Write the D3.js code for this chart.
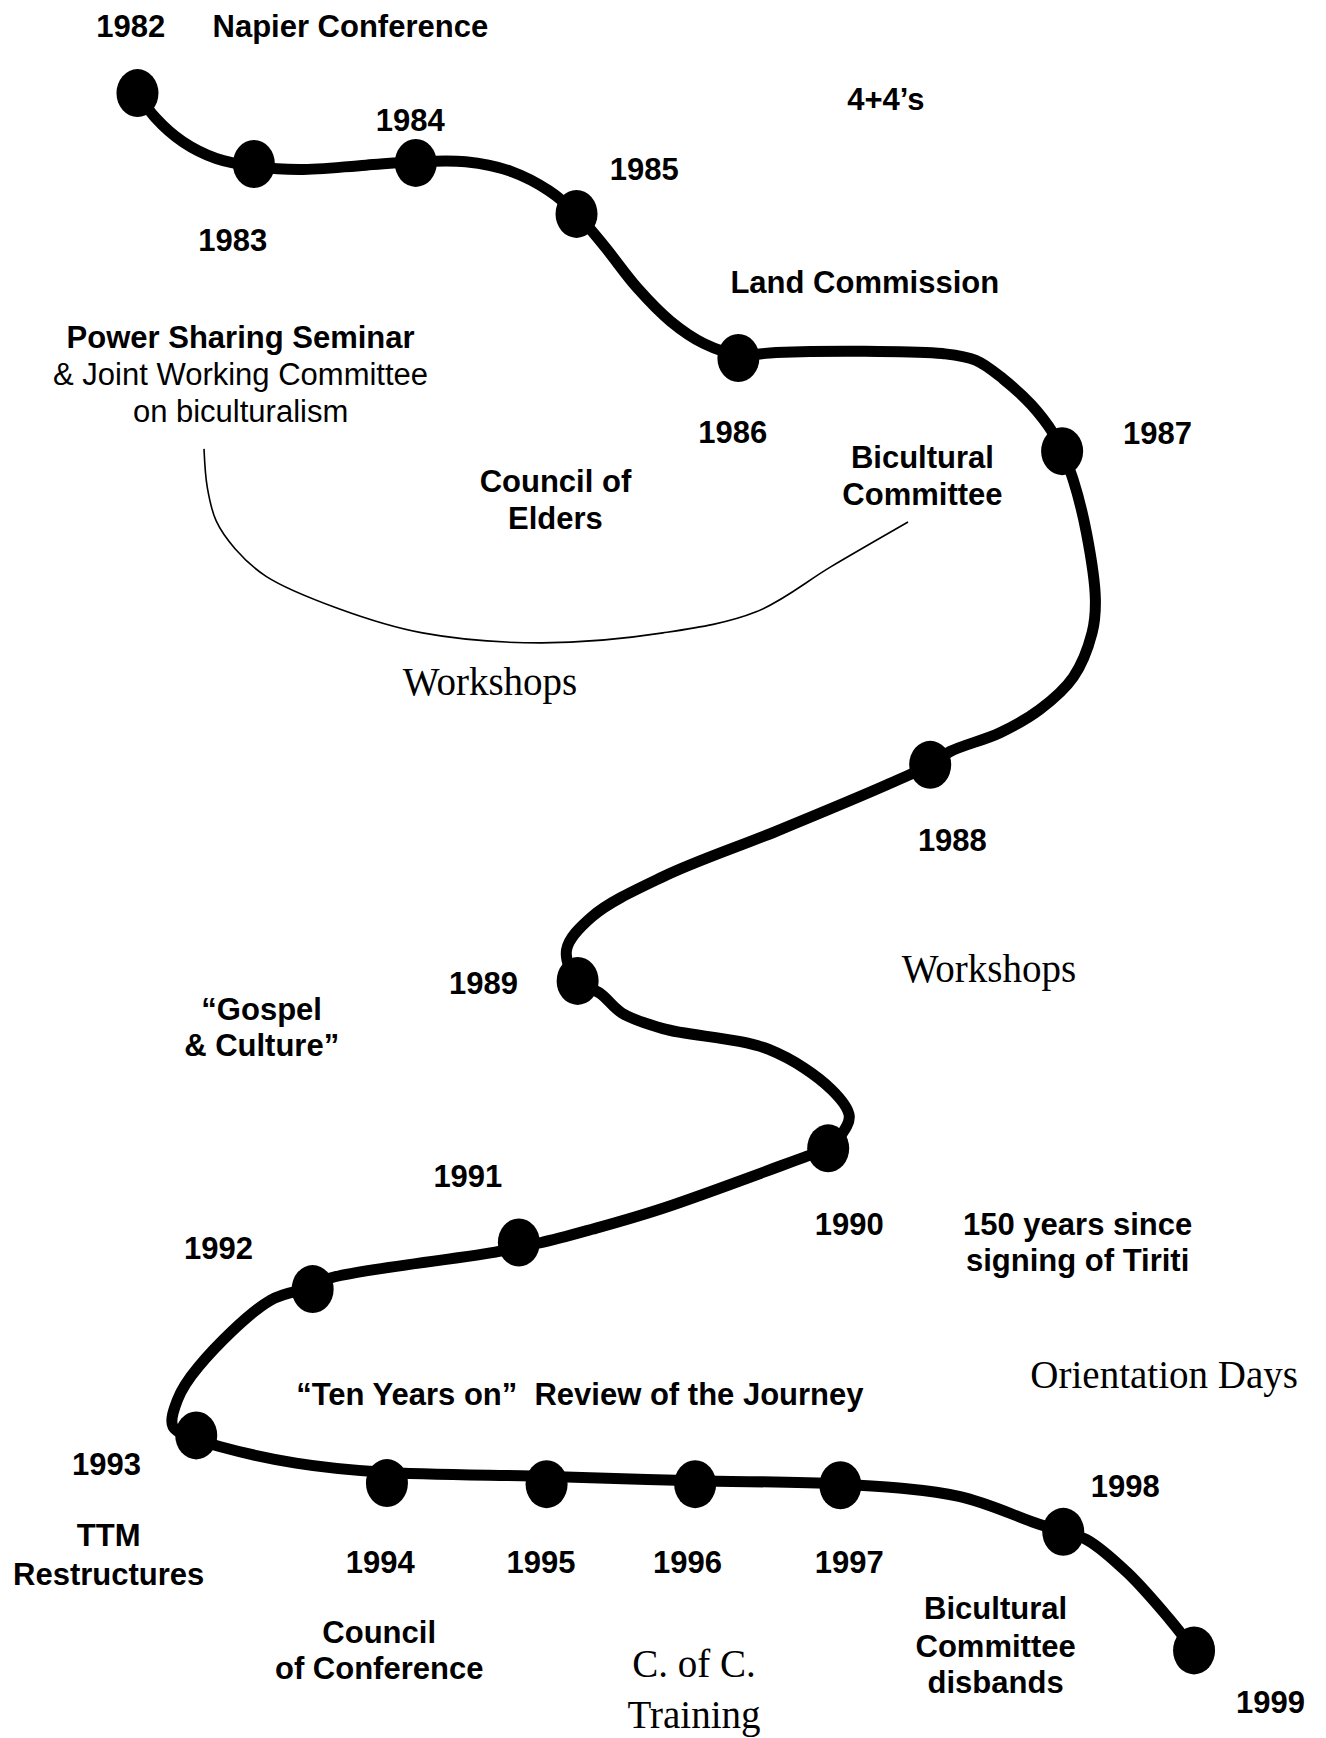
<!DOCTYPE html>
<html>
<head>
<meta charset="utf-8">
<script src="https://cdn.jsdelivr.net/npm/d3@7"></script>
<style>
  body { margin: 0; background: #fff; }
  svg text { white-space: pre; }
</style>
</head>
<body>
<svg id="chart"></svg>
<script>
// timeline journey 1982 - 1999, coordinates read in reference units (1196 x 1568 sheet)
const years = [1982, 1983, 1984, 1985, 1986, 1987, 1988, 1989, 1990,
               1991, 1992, 1993, 1994, 1995, 1996, 1997, 1998, 1999];
const dotX = [124, 229, 375, 520, 666, 958, 839, 521, 747, 468, 282, 177, 349, 493, 627, 758, 959, 1077];
const dotY = [84, 148, 147, 193, 323, 407, 690, 885, 1036, 1121, 1163, 1295, 1338, 1339, 1339, 1340, 1382, 1489];

// year label positions
const yearLabelX = [118, 210, 370, 581, 661, 1044, 859, 436, 766, 422, 197, 96, 343, 488, 620, 766, 1015, 1146];
const yearLabelY = [33, 226, 118, 162, 400, 401, 768, 897, 1114, 1071, 1136, 1331, 1419, 1419, 1419, 1419, 1351, 1545];

// the thick winding road
const trackX = [124, 140, 165, 195, 229, 270, 330, 375, 420, 462, 495, 520, 545, 575, 605, 635, 666,
                700, 780, 850, 880, 905, 930, 950, 958, 968, 980, 988, 985, 968, 938, 902, 857, 839,
                800, 700, 598, 534, 511, 521, 541, 561, 598, 694, 750, 766, 758, 747, 728, 598, 534, 488,
                468, 450, 298, 282, 244, 179, 160, 156, 177, 198, 267, 343, 496, 627, 758, 865, 934, 959,
                980, 1017, 1055, 1077];
const trackY = [84, 106, 128, 143, 150, 153, 149, 146, 146, 155, 172, 193, 222, 260, 290, 310, 320,
                318, 317, 319, 325, 342, 365, 391, 407, 433, 481, 541, 571, 611, 640, 661, 678, 690,
                708, 750, 791, 827, 857, 886, 896, 914, 928, 947, 983, 1007, 1025, 1036, 1043, 1090, 1109, 1121,
                1124, 1129, 1153, 1161, 1173, 1233, 1263, 1287, 1298, 1305, 1320, 1328, 1332, 1336, 1339, 1350, 1374, 1382,
                1389, 1419, 1461, 1489];

// the thin "Workshops" bracket
const bracketX = [184, 187, 195, 212, 240, 305, 381, 488, 598, 682, 750, 819];
const bracketY = [405, 440, 470, 495, 520, 549, 571, 580, 571, 552, 511, 471];

// event notes: b = bold sans, r = regular sans, s = serif
const noteText = ["Napier Conference", "4+4\u2019s", "Land Commission",
  "Power Sharing Seminar", "& Joint Working Committee", "on biculturalism",
  "Bicultural", "Committee", "Council of", "Elders", "Workshops", "Workshops",
  "\u201cGospel", "& Culture\u201d", "150 years since", "signing of Tiriti",
  "Orientation Days", "\u201cTen Years on\u201d  Review of the Journey",
  "TTM", "Restructures", "Council", "of Conference", "C. of C.", "Training",
  "Bicultural", "Committee", "disbands"];
const noteX = [316, 799, 780, 217, 217, 217, 832, 832, 501, 501, 442, 892,
  236, 236, 972, 972, 1050, 523, 98, 98, 342, 342, 626, 626, 898, 898, 898];
const noteY = [33, 99, 264, 314, 347, 381, 422, 456, 444, 477, 627, 886,
  920, 953, 1114, 1147, 1252, 1268, 1395, 1430, 1482, 1515, 1513, 1559, 1461, 1495, 1527];
const noteKind = ["b", "b", "b", "b", "r", "r", "b", "b", "b", "b", "s", "s",
  "b", "b", "b", "b", "s", "b", "b", "b", "b", "b", "s", "s", "b", "b", "b"];

const W = 1326, H = 1738;
const x = d3.scaleLinear().domain([0, 1196]).range([0, W]);
const y = d3.scaleLinear().domain([0, 1568]).range([0, H]);

const svg = d3.select("#chart")
    .attr("width", W)
    .attr("height", H)
    .style("background", "#fff");

const fonts = {
  b: {family: "'Liberation Sans', Arial, sans-serif", weight: "bold", size: 31},
  r: {family: "'Liberation Sans', Arial, sans-serif", weight: "normal", size: 31},
  s: {family: "'Liberation Serif', 'Times New Roman', serif", weight: "normal", size: 39}
};

// thin bracket line
const bracket = d3.line()
    .x(i => x(bracketX[i]))
    .y(i => y(bracketY[i]))
    .curve(d3.curveCatmullRom.alpha(0.5));
svg.append("path")
    .attr("d", bracket(d3.range(bracketX.length)))
    .attr("fill", "none")
    .attr("stroke", "#000")
    .attr("stroke-width", 1.6);

// thick road
const road = d3.line()
    .x(i => x(trackX[i]))
    .y(i => y(trackY[i]))
    .curve(d3.curveCatmullRom.alpha(0.5));
svg.append("path")
    .attr("class", "road")
    .attr("d", road(d3.range(trackX.length)))
    .attr("fill", "none")
    .attr("stroke", "#000")
    .attr("stroke-width", 11)
    .attr("stroke-linecap", "round")
    .attr("stroke-linejoin", "round");

// year dots
svg.selectAll(".dot")
  .data(years)
  .enter().append("ellipse")
    .attr("class", "dot")
    .attr("cx", (d, i) => x(dotX[i]))
    .attr("cy", (d, i) => y(dotY[i]))
    .attr("rx", 21)
    .attr("ry", 24)
    .attr("fill", "#000");

// year labels
svg.selectAll(".year")
  .data(years)
  .enter().append("text")
    .attr("class", "year")
    .attr("x", (d, i) => x(yearLabelX[i]))
    .attr("y", (d, i) => y(yearLabelY[i]))
    .attr("text-anchor", "middle")
    .style("font-family", fonts.b.family)
    .style("font-weight", fonts.b.weight)
    .style("font-size", fonts.b.size + "px")
    .text(d => d);

// event notes
svg.selectAll(".note")
  .data(noteText)
  .enter().append("text")
    .attr("class", "note")
    .attr("x", (d, i) => x(noteX[i]))
    .attr("y", (d, i) => y(noteY[i]))
    .attr("text-anchor", "middle")
    .style("font-family", (d, i) => fonts[noteKind[i]].family)
    .style("font-weight", (d, i) => fonts[noteKind[i]].weight)
    .style("font-size", (d, i) => fonts[noteKind[i]].size + "px")
    .text(d => d);
</script>
</body>
</html>
